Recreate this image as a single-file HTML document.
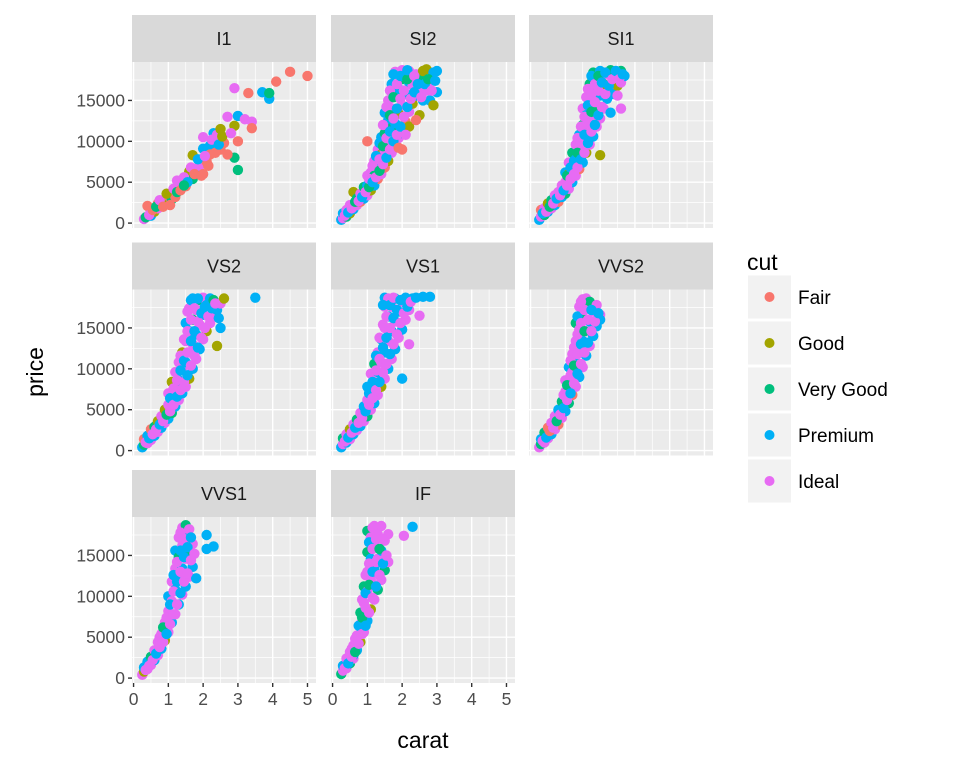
<!DOCTYPE html>
<html><head><meta charset="utf-8"><style>
body{margin:0;background:#fff;}
svg{display:block;font-family:"Liberation Sans",sans-serif;}
</style></head><body>
<svg id="chart" width="960" height="768" viewBox="0 0 960 768"></svg>
<script>
const cutLevels=["Fair","Good","Very Good","Premium","Ideal"];
const cutColors=["#F8766D","#A3A500","#00BF7D","#00B0F6","#E76BF3"];
const facetNames=["I1","SI2","SI1","VS2","VS1","VVS2","VVS1","IF"];
const xTicks=[0,1,2,3,4,5];
const yTicks=[0,5000,10000,15000];
const yTickLabels=["0","5000","10000","15000"];
// points: [carat, price (thousands), cut index]
const dI1=[[0.3,0.5,4],[0.35,0.7,2],[0.4,2.1,0],[0.5,0.9,3],[0.6,1.4,1],[0.7,1.8,4],[0.7,2.4,0],[0.8,2.3,3],[0.9,2.9,4],[1.0,2.6,1],[1.0,3.3,0],[1.1,3.6,4],[1.1,2.9,2],[1.2,4.0,3],[1.2,3.2,0],[1.3,4.6,4],[1.4,5.0,3],[1.5,5.6,4],[1.5,4.5,0],[1.6,6.3,1],[1.7,8.3,1],[1.7,5.4,2],[1.8,6.6,3],[1.9,7.0,4],[2.0,9.1,3],[2.0,6.0,0],[2.0,10.5,4],[2.1,7.5,0],[2.2,9.5,3],[2.2,8.4,0],[2.3,11.0,3],[2.4,10.8,4],[2.5,11.5,1],[2.5,9.0,0],[2.6,9.8,0],[2.7,13.0,4],[3.0,13.1,3],[3.0,10.0,0],[3.0,6.5,2],[2.9,8.0,2],[2.9,11.9,1],[3.2,12.7,4],[3.4,12.4,4],[3.4,11.6,0],[2.9,16.5,4],[3.3,15.9,0],[3.7,16.0,3],[3.9,15.2,3],[3.9,15.9,2],[4.1,17.3,0],[4.5,18.5,0],[5.0,18.0,0],
[0.45,1.0,4],[0.55,1.6,0],[0.65,2.0,2],[0.75,2.8,4],[0.85,2.0,0],[0.95,3.6,1],[1.05,2.2,0],[1.15,4.2,4],[1.25,3.8,2],[1.35,4.0,0],[1.45,5.6,4],[1.55,5.0,3],[1.65,6.8,4],[1.75,6.0,0],[1.85,7.8,3],[1.95,5.8,0],[2.05,8.2,4],[2.15,7.0,0],[2.25,10.2,4],[2.35,8.6,0],[2.45,9.6,3],[2.55,10.6,1],[2.7,8.4,0],[2.8,11.0,4],[1.25,5.2,4],[1.45,4.6,2]];
const dSI2=[[0.25,0.4,3],[0.3,0.6,4],[0.3,1.2,3],[0.4,0.8,2],[0.4,1.6,4],[0.5,1.2,1],[0.5,2.2,4],[0.6,1.7,3],[0.6,3.8,1],[0.7,2.2,4],[0.7,3.0,2],[0.8,2.6,0],[0.8,3.6,4],[0.9,3.0,3],[0.9,4.4,2],[1.0,3.4,4],[1.0,4.6,3],[1.0,5.8,4],[1.0,10.0,0],[1.1,4.0,1],[1.1,6.2,4],[1.2,4.6,3],[1.2,5.8,2],[1.2,7.6,4],[1.3,5.4,0],[1.3,7.0,3],[1.3,9.0,4],[1.4,6.0,4],[1.4,8.4,1],[1.4,10.5,3],[1.5,6.8,0],[1.5,8.8,4],[1.5,11.0,2],[1.5,13.5,3],[1.6,7.6,1],[1.6,10.0,4],[1.6,12.6,3],[1.6,15.0,4],[1.7,8.6,4],[1.7,11.6,2],[1.7,14.0,4],[1.7,17.0,3],[1.8,9.4,0],[1.8,12.2,3],[1.8,15.6,4],[1.8,18.5,4],[1.9,10.4,4],[1.9,13.4,1],[1.9,16.4,3],[2.0,11.0,3],[2.0,14.4,4],[2.0,17.6,2],[2.0,18.7,4],[2.1,12.4,0],[2.1,15.8,3],[2.2,13.6,4],[2.2,17.2,3],[2.2,18.6,4],[2.3,14.6,1],[2.3,16.8,4],[2.4,15.6,3],[2.4,18.2,4],[2.5,16.4,4],[2.5,17.8,2],[2.5,13.2,1],[2.6,15.0,3],[2.6,18.6,1],[2.7,16.2,4],[2.7,18.8,1],[2.8,15.0,3],[2.8,17.4,4],[2.9,14.4,1],[2.9,18.4,3],[3.0,16.0,3],[3.0,18.6,3],[2.0,9.0,0],[2.2,11.8,1],[2.4,12.6,0],
[0.35,0.9,4],[0.45,1.3,3],[0.55,1.8,4],[0.65,2.6,2],[0.75,2.7,4],[0.85,3.2,3],[0.95,3.8,4],[1.05,4.4,2],[1.05,5.4,4],[1.15,5.0,3],[1.15,7.0,4],[1.25,5.6,4],[1.25,8.2,3],[1.35,6.4,2],[1.35,7.8,4],[1.35,9.8,3],[1.45,7.2,4],[1.45,9.4,2],[1.45,12.0,4],[1.55,8.0,3],[1.55,10.4,4],[1.55,14.2,4],[1.65,9.0,4],[1.65,11.2,3],[1.65,13.2,2],[1.65,16.2,4],[1.75,10.0,3],[1.75,12.8,4],[1.75,15.4,2],[1.75,18.2,3],[1.85,10.8,4],[1.85,14.0,3],[1.85,17.0,4],[1.95,11.8,3],[1.95,15.2,4],[1.95,18.0,3],[2.05,13.0,4],[2.05,16.2,4],[2.15,14.2,3],[2.15,17.6,2],[2.15,18.7,3],[2.25,15.2,4],[2.35,16.0,3],[2.35,18.0,4],[2.45,17.0,3],[2.55,15.4,4],[2.65,17.0,3],[2.75,17.6,2],[2.85,16.2,4],[2.95,17.4,3],[2.1,10.8,4],[1.9,9.2,0]];
const dSI1=[[0.25,0.4,3],[0.3,0.8,4],[0.3,1.6,0],[0.4,1.0,2],[0.4,1.8,4],[0.5,1.4,3],[0.5,2.4,1],[0.6,1.8,4],[0.6,2.8,2],[0.7,2.2,3],[0.7,3.4,4],[0.8,2.6,0],[0.8,3.8,4],[0.9,3.2,3],[0.9,4.6,4],[1.0,3.6,2],[1.0,5.0,4],[1.0,6.2,3],[1.1,4.2,4],[1.1,6.0,1],[1.1,7.4,4],[1.2,5.0,3],[1.2,6.8,4],[1.2,8.6,2],[1.3,5.8,4],[1.3,7.8,3],[1.3,9.6,4],[1.4,6.6,0],[1.4,8.8,4],[1.4,10.8,3],[1.5,7.4,3],[1.5,9.8,4],[1.5,12.0,2],[1.5,14.0,4],[1.6,8.6,1],[1.6,11.0,4],[1.6,13.2,3],[1.6,15.4,4],[1.7,9.6,4],[1.7,12.2,3],[1.7,14.6,4],[1.7,17.0,2],[1.8,10.6,3],[1.8,13.2,4],[1.8,16.0,3],[1.8,18.4,2],[1.9,11.8,4],[1.9,14.4,2],[1.9,17.4,4],[2.0,8.3,1],[2.0,12.8,4],[2.0,15.6,3],[2.0,18.6,3],[2.1,14.0,4],[2.1,17.0,1],[2.2,15.2,3],[2.2,18.2,4],[2.3,16.4,4],[2.3,18.7,2],[2.4,15.8,3],[2.4,17.6,4],[2.5,16.8,1],[2.5,18.4,3],[2.6,17.2,4],[2.6,18.6,2],[2.7,18.0,3],[2.6,14.0,4],[2.3,13.5,3],
[0.35,1.2,3],[0.45,1.4,4],[0.55,2.0,2],[0.65,2.4,4],[0.75,3.0,3],[0.85,3.4,4],[0.95,4.0,3],[1.05,4.6,4],[1.05,5.8,2],[1.15,5.4,4],[1.15,6.8,3],[1.25,6.0,4],[1.25,7.6,3],[1.35,6.8,4],[1.35,8.6,2],[1.35,10.4,4],[1.45,7.8,3],[1.45,9.8,4],[1.45,11.8,4],[1.55,8.6,4],[1.55,10.8,3],[1.55,13.0,4],[1.65,9.8,3],[1.65,12.2,4],[1.65,14.4,3],[1.65,16.4,4],[1.75,11.2,4],[1.75,13.6,2],[1.75,15.8,4],[1.75,18.0,3],[1.85,12.0,3],[1.85,14.8,4],[1.85,17.0,4],[1.95,13.2,3],[1.95,16.2,4],[1.95,18.0,2],[2.05,14.2,4],[2.05,17.2,3],[2.15,15.8,4],[2.15,18.4,3],[2.25,16.8,3],[2.35,17.6,4],[2.45,18.6,3],[2.55,17.6,4],[2.65,18.2,3],[2.5,15.6,4]];
const dVS2=[[0.25,0.4,3],[0.3,0.7,2],[0.3,1.4,0],[0.4,0.9,4],[0.4,1.8,3],[0.5,1.3,4],[0.5,2.6,0],[0.6,1.8,3],[0.6,2.9,2],[0.7,2.3,4],[0.7,3.6,1],[0.8,2.8,3],[0.8,4.2,4],[0.9,3.4,4],[0.9,5.0,1],[1.0,3.9,3],[1.0,5.6,4],[1.0,7.0,4],[1.1,4.6,2],[1.1,6.6,4],[1.1,8.4,1],[1.2,5.4,3],[1.2,7.6,4],[1.2,9.6,4],[1.3,6.2,4],[1.3,8.6,3],[1.3,10.8,4],[1.4,7.0,3],[1.4,9.8,4],[1.4,12.0,1],[1.5,7.8,4],[1.5,10.8,3],[1.5,13.4,4],[1.5,15.6,3],[1.6,8.8,1],[1.6,12.0,4],[1.6,14.6,3],[1.6,17.4,4],[1.7,10.0,3],[1.7,13.0,4],[1.7,16.0,2],[1.7,18.6,3],[1.8,11.2,4],[1.8,14.2,3],[1.8,17.2,4],[1.9,12.4,3],[1.9,15.4,4],[1.9,18.4,2],[2.0,13.6,4],[2.0,16.6,3],[2.0,18.7,4],[2.1,14.6,1],[2.1,17.8,3],[2.2,15.6,4],[2.2,18.6,3],[2.3,16.4,4],[2.3,18.4,2],[2.4,17.2,3],[2.4,12.8,1],[2.5,18.0,4],[2.6,18.6,1],[2.5,15.0,3],[3.5,18.7,3],
[0.35,1.0,4],[0.45,1.5,3],[0.55,2.0,4],[0.65,2.6,4],[0.75,3.2,3],[0.85,3.6,4],[0.95,4.4,2],[1.05,4.8,4],[1.05,6.4,3],[1.15,5.6,4],[1.15,7.6,4],[1.25,6.6,3],[1.25,8.6,4],[1.35,7.4,4],[1.35,9.8,3],[1.35,11.6,4],[1.45,8.4,4],[1.45,11.0,3],[1.45,13.6,4],[1.55,9.2,3],[1.55,12.0,4],[1.55,14.6,4],[1.55,17.0,4],[1.65,10.4,4],[1.65,13.4,3],[1.65,16.0,4],[1.65,18.4,3],[1.75,11.6,4],[1.75,14.6,3],[1.75,17.4,4],[1.85,12.6,3],[1.85,15.8,4],[1.85,18.6,3],[1.95,13.8,4],[1.95,16.8,3],[2.05,15.0,4],[2.05,17.6,3],[2.15,16.4,4],[2.25,17.4,3],[2.35,18.0,4],[2.45,16.2,3]];
const dVS1=[[0.25,0.4,3],[0.3,0.8,4],[0.3,1.5,2],[0.4,1.0,3],[0.4,2.0,4],[0.5,1.4,4],[0.5,2.6,1],[0.6,2.0,3],[0.6,3.2,4],[0.7,2.5,4],[0.7,3.8,2],[0.8,3.0,3],[0.8,4.6,4],[0.9,3.6,4],[0.9,5.4,3],[1.0,4.2,2],[1.0,6.2,4],[1.0,7.8,3],[1.1,5.0,4],[1.1,7.4,3],[1.1,9.4,4],[1.2,5.8,3],[1.2,8.4,4],[1.2,10.6,2],[1.3,6.8,4],[1.3,9.6,3],[1.3,12.0,4],[1.4,7.8,1],[1.4,10.8,4],[1.4,13.6,3],[1.5,8.8,4],[1.5,12.0,3],[1.5,15.0,4],[1.5,17.6,4],[1.5,18.7,3],[1.6,10.0,3],[1.6,13.4,4],[1.6,16.4,3],[1.6,18.6,4],[1.7,11.2,4],[1.7,14.6,3],[1.7,17.6,4],[1.8,12.4,3],[1.8,15.8,4],[1.8,18.6,3],[1.9,13.8,4],[1.9,17.0,3],[2.0,14.8,3],[2.0,18.2,4],[2.1,16.0,4],[2.1,18.7,3],[2.2,17.2,4],[2.3,18.6,3],[2.0,8.8,3],[2.5,16.5,4],[2.6,18.8,3],[2.8,18.8,3],[2.2,13.0,4],
[0.35,1.1,4],[0.45,1.6,3],[0.55,2.2,4],[0.65,2.8,3],[0.75,3.4,4],[0.85,4.0,4],[0.95,4.8,3],[1.05,5.6,4],[1.05,7.0,3],[1.15,6.4,4],[1.15,8.4,3],[1.25,7.4,4],[1.25,9.8,4],[1.25,11.6,3],[1.35,8.4,3],[1.35,11.2,4],[1.35,13.8,4],[1.45,9.6,4],[1.45,12.6,3],[1.45,15.4,4],[1.45,17.8,3],[1.55,10.6,4],[1.55,13.8,3],[1.55,16.4,4],[1.65,11.8,3],[1.65,15.0,4],[1.65,17.8,3],[1.75,13.0,4],[1.75,16.2,3],[1.75,18.7,4],[1.85,14.2,4],[1.85,17.2,3],[1.95,15.6,4],[1.95,18.4,3],[2.05,16.8,4],[2.15,17.6,3],[2.25,18.2,4],[2.4,18.7,3]];
const dVVS2=[[0.25,0.4,4],[0.3,0.8,2],[0.3,1.4,3],[0.4,1.0,4],[0.4,2.2,2],[0.5,1.5,4],[0.5,2.8,0],[0.6,2.0,3],[0.6,3.4,4],[0.7,2.6,4],[0.7,4.2,4],[0.8,3.2,0],[0.8,5.0,3],[0.9,4.0,4],[0.9,6.0,2],[1.0,4.8,3],[1.0,7.2,4],[1.0,8.6,4],[1.1,5.8,2],[1.1,8.4,4],[1.1,10.2,3],[1.2,6.8,0],[1.2,9.6,4],[1.2,11.8,4],[1.3,7.8,4],[1.3,10.8,3],[1.3,13.4,4],[1.3,15.6,2],[1.4,9.0,3],[1.4,12.2,4],[1.4,14.8,4],[1.4,17.6,4],[1.5,10.2,4],[1.5,13.4,3],[1.5,16.2,2],[1.5,18.5,4],[1.6,11.6,3],[1.6,14.6,4],[1.6,17.4,4],[1.6,18.6,4],[1.7,12.8,4],[1.7,15.8,3],[1.7,18.2,2],[1.8,14.0,3],[1.8,17.0,4],[1.9,15.2,3],[1.9,17.8,4],[2.0,16.6,4],[2.0,16.0,3],
[0.35,1.2,4],[0.45,1.6,3],[0.55,2.4,0],[0.65,2.8,4],[0.75,3.6,2],[0.85,4.4,4],[0.95,5.2,3],[0.95,6.8,4],[1.05,6.2,4],[1.05,8.0,2],[1.15,7.0,3],[1.15,9.2,4],[1.15,11.0,4],[1.25,8.2,4],[1.25,10.4,2],[1.25,12.6,4],[1.35,9.4,3],[1.35,11.8,4],[1.35,14.2,4],[1.35,16.4,3],[1.45,10.6,4],[1.45,13.0,3],[1.45,15.6,4],[1.45,18.2,4],[1.55,12.0,4],[1.55,14.6,2],[1.55,17.2,4],[1.65,13.2,3],[1.65,16.0,4],[1.75,14.6,4],[1.75,17.2,3],[1.85,15.8,4],[1.95,16.8,3]];
const dVVS1=[[0.25,0.4,4],[0.3,0.8,1],[0.3,1.3,3],[0.4,1.1,4],[0.4,2.0,3],[0.5,1.6,4],[0.5,2.6,2],[0.6,2.2,3],[0.6,3.4,4],[0.7,2.8,4],[0.7,4.4,4],[0.8,3.6,3],[0.8,5.4,4],[0.9,4.6,1],[0.9,6.8,4],[1.0,5.6,4],[1.0,8.2,4],[1.0,10.0,3],[1.1,6.8,3],[1.1,9.4,4],[1.1,11.8,4],[1.2,7.8,4],[1.2,10.8,3],[1.2,13.4,4],[1.2,15.6,3],[1.3,9.0,3],[1.3,12.2,4],[1.3,14.8,2],[1.3,17.2,4],[1.4,10.2,4],[1.4,13.4,3],[1.4,16.2,4],[1.4,18.4,4],[1.5,11.2,3],[1.5,14.6,4],[1.5,17.4,3],[1.5,18.7,2],[1.6,12.4,4],[1.6,15.6,2],[1.6,18.2,4],[1.7,13.6,3],[1.7,16.4,4],[1.8,12.2,3],[2.1,17.5,3],[2.1,15.8,3],[2.3,16.1,3],
[0.35,1.0,4],[0.45,1.5,4],[0.55,2.2,4],[0.65,3.0,3],[0.75,3.8,4],[0.75,5.0,4],[0.85,4.4,4],[0.85,6.2,2],[0.95,5.4,3],[0.95,7.4,4],[1.05,6.6,4],[1.05,9.0,3],[1.15,7.8,4],[1.15,10.6,4],[1.15,12.6,3],[1.25,9.0,4],[1.25,11.8,3],[1.25,14.2,4],[1.35,10.4,3],[1.35,13.0,4],[1.35,15.6,3],[1.35,17.8,4],[1.45,11.8,4],[1.45,14.8,3],[1.45,17.0,4],[1.55,12.8,4],[1.55,16.0,3],[1.65,14.4,4],[1.65,17.2,3],[1.75,15.2,4]];
const dIF=[[0.25,0.5,2],[0.3,0.9,4],[0.3,1.5,3],[0.4,1.2,4],[0.4,2.4,4],[0.5,1.8,2],[0.5,3.2,4],[0.6,2.4,4],[0.6,2.8,3],[0.6,4.0,4],[0.7,3.4,3],[0.7,5.2,4],[0.8,4.4,1],[0.8,6.6,4],[0.8,8.0,2],[0.9,5.6,4],[0.9,9.2,4],[0.9,11.2,2],[1.0,7.0,3],[1.0,10.6,4],[1.0,13.0,4],[1.0,15.4,2],[1.0,18.0,2],[1.1,8.4,1],[1.1,12.0,4],[1.1,14.6,3],[1.1,17.2,4],[1.2,9.6,4],[1.2,13.4,3],[1.2,16.4,4],[1.2,18.6,4],[1.3,10.8,2],[1.3,14.6,4],[1.3,17.6,4],[1.4,12.0,4],[1.4,15.6,3],[1.4,18.6,4],[1.5,13.2,2],[1.5,16.8,4],[1.6,14.2,4],[1.6,17.6,4],[2.05,17.4,4],[2.3,18.5,3],
[0.35,1.2,4],[0.45,1.8,3],[0.55,2.6,4],[0.55,3.6,4],[0.65,3.2,2],[0.65,4.8,4],[0.75,4.2,4],[0.75,6.4,3],[0.85,5.4,4],[0.85,7.4,2],[0.85,9.6,4],[0.95,6.4,3],[0.95,8.6,4],[0.95,10.4,3],[0.95,12.6,4],[1.05,8.0,4],[1.05,11.4,2],[1.05,14.0,4],[1.05,16.6,3],[1.15,9.8,4],[1.15,13.0,3],[1.15,15.8,4],[1.15,18.4,4],[1.25,11.2,3],[1.25,14.2,4],[1.25,17.0,4],[1.35,12.6,4],[1.35,15.8,2],[1.45,14.0,3],[1.45,17.0,4],[1.55,15.0,4]];
const facetData=[dI1,dSI2,dSI1,dVS2,dVS1,dVVS2,dVVS1,dIF];

const NS="http://www.w3.org/2000/svg";
const svg=document.getElementById("chart");
function mk(tag,attrs,parent){const e=document.createElementNS(NS,tag);for(const k in attrs)e.setAttribute(k,attrs[k]);(parent||svg).appendChild(e);return e;}
const colX=[132,331,529], PW=184;
const stripTop=[15,242.5,470], SH=47, PH=166;
const xMin=-0.045,xMax=5.245, yMin=-600,yMax=19700;
function sx(c,v){return colX[c]+(v-xMin)/(xMax-xMin)*PW;}
function sy(r,v){const top=stripTop[r]+SH;return top+PH-(v-yMin)/(yMax-yMin)*PH;}

facetData.forEach((pts,i)=>{
  const r=Math.floor(i/3), c=i%3;
  const g=mk("g",{});
  
  
  const st=mk("rect",{x:colX[c],y:stripTop[r],width:PW,height:SH,fill:"#D9D9D9"},g);
  
  
  const stt=mk("text",{x:colX[c]+PW/2,y:stripTop[r]+SH/2+6.5,"text-anchor":"middle","font-size":"18",fill:"#1A1A1A"},g);
  stt.textContent=facetNames[i];
  
  
  const top=stripTop[r]+SH;
  const bg=mk("rect",{x:colX[c],y:top,width:PW,height:PH,fill:"#EBEBEB"},g);
  
  
  for(let v=0.5;v<5.3;v+=1){mk("line",{x1:sx(c,v),x2:sx(c,v),y1:top,y2:top+PH,stroke:"#fff","stroke-width":0.7},g);}
  for(let v=2500;v<19700;v+=5000){mk("line",{x1:colX[c],x2:colX[c]+PW,y1:sy(r,v),y2:sy(r,v),stroke:"#fff","stroke-width":0.7},g);}
  xTicks.forEach(v=>mk("line",{x1:sx(c,v),x2:sx(c,v),y1:top,y2:top+PH,stroke:"#fff","stroke-width":1.4},g));
  yTicks.forEach(v=>mk("line",{x1:colX[c],x2:colX[c]+PW,y1:sy(r,v),y2:sy(r,v),stroke:"#fff","stroke-width":1.4},g));
  pts.forEach(p=>{
    const dot=mk("circle",{cx:sx(c,p[0]),cy:sy(r,p[1]*1000),r:5.2,fill:cutColors[p[2]]},g);
    
    
  });
  if(c===0){
    yTicks.forEach((v,k)=>{
      mk("line",{x1:colX[c]-4,x2:colX[c],y1:sy(r,v),y2:sy(r,v),stroke:"#333","stroke-width":1.4},g);
      const t=mk("text",{x:colX[c]-7,y:sy(r,v)+6,"text-anchor":"end","font-size":"17.5",fill:"#4D4D4D"},g);
      t.textContent=yTickLabels[k];
      
      
    });
  }
  if(r===2){
    xTicks.forEach(v=>{
      mk("line",{x1:sx(c,v),x2:sx(c,v),y1:top+PH,y2:top+PH+4,stroke:"#333","stroke-width":1.4},g);
      const t=mk("text",{x:sx(c,v),y:top+PH+22,"text-anchor":"middle","font-size":"17.5",fill:"#4D4D4D"},g);
      t.textContent=String(v);
      
      
    });
  }
});
const xt=mk("text",{x:423,y:748,"text-anchor":"middle","font-size":"23",fill:"#000"});
xt.textContent="carat";


const yt=mk("text",{x:0,y:0,"text-anchor":"middle","font-size":"23",fill:"#000",transform:"translate(43,372) rotate(-90)"});
yt.textContent="price";


const lg=mk("g",{});


const lt=mk("text",{x:747,y:270,"font-size":"23",fill:"#000"},lg);
lt.textContent="cut";


cutLevels.forEach((name,k)=>{
  const cy=297+k*46;
  const e=mk("g",{},lg);
  
  
  mk("rect",{x:748,y:cy-21.5,width:43,height:43,fill:"#F2F2F2"},e);
  mk("circle",{cx:769.5,cy:cy,r:5,fill:cutColors[k]},e);
  const t=mk("text",{x:798,y:cy+7,"font-size":"19",fill:"#000"},e);
  t.textContent=name;
});
</script>
</body></html>
